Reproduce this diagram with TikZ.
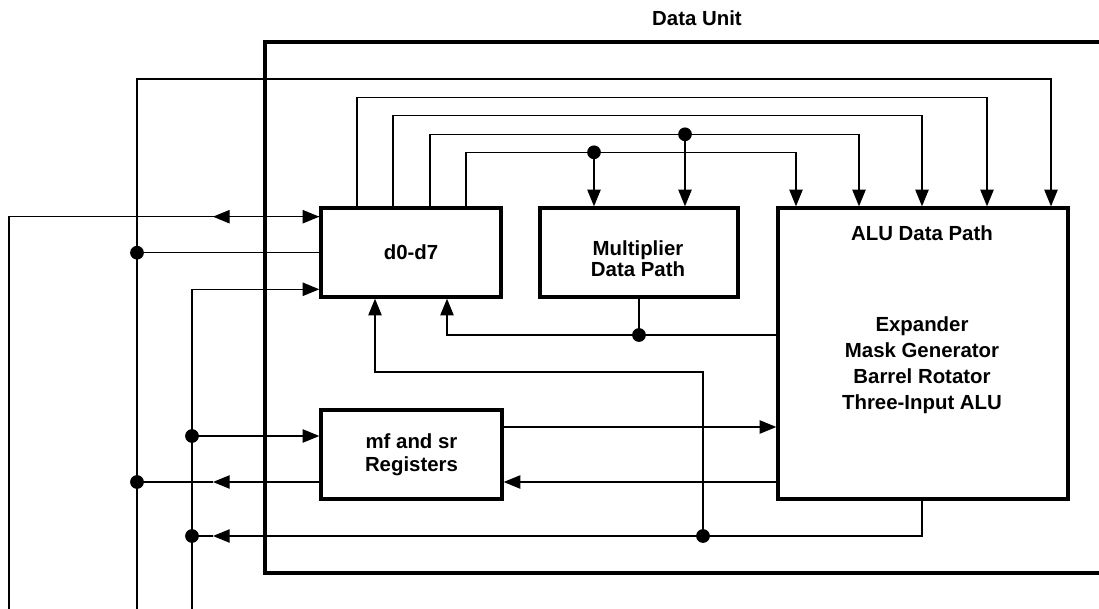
\documentclass[tikz,border=0pt]{standalone}
\usepackage{fontspec}
\setmainfont{Liberation Sans}
\usetikzlibrary{arrows.meta}
\begin{document}
\begin{tikzpicture}[x=0.75pt,y=-0.75pt,
  txt/.style={font=\fontsize{15.3}{16.5}\selectfont\bfseries,align=center,inner sep=0pt},
  blk/.style={draw,line width=2.5pt,inner sep=0pt,font=\fontsize{15.3}{17.5}\selectfont\bfseries,align=center},
  wire/.style={line width=1pt},
  arr/.style={wire,-{Triangle[length=12.5pt,width=10pt]}},
  dot/.style={circle,fill,inner sep=0pt,minimum size=10.3pt},
  frame/.style={line width=2.5pt,line join=miter}
]
\useasboundingbox (0,0) rectangle (1099,609);
% boxes
\node[blk,minimum width=135pt,minimum height=66.75pt] (d) at (411,252.5) {d0-d7};
\node[blk,minimum width=148.5pt,minimum height=66.75pt] (m) at (639,252.5) {};
\node[txt,font=\fontsize{15.3}{16}\selectfont\bfseries] (mt) at (638,259) {Multiplier\\Data Path};
\node[blk,minimum width=217.5pt,minimum height=218.25pt] (alu) at (923,353.5) {};
\node[txt] (alut) at (922,233.5) {ALU Data Path};
\node[txt,font=\fontsize{15.3}{19.5}\selectfont\bfseries] (alul) at (922,365) {Expander\\Mask Generator\\Barrel Rotator\\Three-Input ALU};
\node[blk,minimum width=135.75pt,minimum height=66.75pt] (r) at (411.5,454.5) {mf and sr\\Registers};
\node[txt] (title) at (697,18) {Data Unit};
% outer frame
\draw[frame] (1130,42) -- (265,42) -- (265,573) -- (1130,573);
% free ends and junctions
\coordinate (L0) at (9,609);
\coordinate (L1) at (137,609);
\coordinate (L2) at (192,609);
\coordinate (ta) at (213,216.7);
\coordinate (tb) at (213,482);
\coordinate (tc) at (213,536);
\node[dot] (ja) at (137,252.7) {};
\node[dot] (jb) at (137,482) {};
\node[dot] (jc) at (192,436) {};
\node[dot] (jd) at (192,536) {};
\node[dot] (je) at (594,152.3) {};
\node[dot] (jf) at (685,134.3) {};
\node[dot] (jg) at (639,335) {};
\node[dot] (jh) at (703,536) {};
% left side
\draw[arr] (L0) |- (d.west |- ta);
\draw[arr] (d.west |- ta) -- (ta);
\draw[wire] (d.west |- ja) -- (ja.center);
\draw[arr] (L2) |- (d.west |- 0,289.3);
\draw[arr] (jc.center) -- (r.west |- jc);
\draw[arr] (r.west |- jb) -- (tb);
\draw[wire] (tb) -- (jb.center);
% top buses
\draw[arr] (L1) |- (1051,79) -- (1051,0 |- alu.north);
\draw[arr] (357,0 |- d.north) |- (987,97.5) -- (987,0 |- alu.north);
\draw[arr] (393,0 |- d.north) |- (922,115.7) -- (922,0 |- alu.north);
\draw[arr] (430,0 |- d.north) |- (859,134.3) -- (859,0 |- alu.north);
\draw[arr] (466,0 |- d.north) |- (796,152.3) -- (796,0 |- alu.north);
\draw[arr] (je.center) -- (je |- m.north);
\draw[arr] (jf.center) -- (jf |- m.north);
% multiplier / alu back to d
\draw[wire] (m.south) -- (jg.center);
\draw[arr] (alu.west |- jg) -| (447,0 |- d.south);
\draw[arr] (922,0 |- alu.south) |- (tc);
\draw[wire] (tc) -- (jd.center);
\draw[arr] (jh.center) |- (375,372) -- (375,0 |- d.south);
% registers <-> alu
\draw[arr] (r.east |- 0,427) -- (alu.west |- 0,427);
\draw[arr] (alu.west |- jb) -- (r.east |- jb);
\end{tikzpicture}
\end{document}
